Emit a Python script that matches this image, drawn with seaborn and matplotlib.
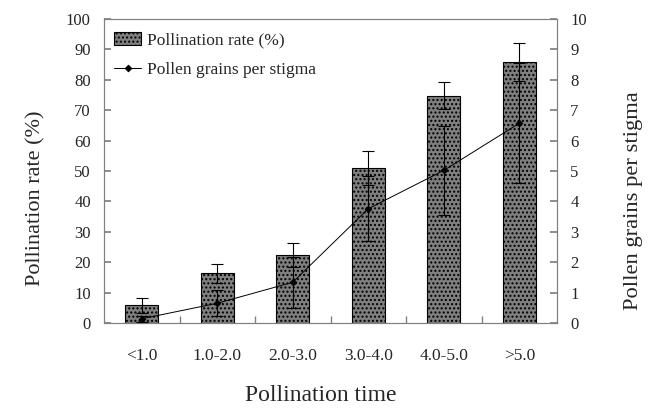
import matplotlib
matplotlib.use("Agg")
import matplotlib.pyplot as plt
import seaborn as sns
import numpy as np

categories = ["<1.0", "1.0-2.0", "2.0-3.0", "3.0-4.0", "4.0-5.0", ">5.0"]
rate = [5.8, 16.4, 22.4, 51.0, 74.8, 85.9]
rate_err = [2.4, 3.1, 3.9, 5.7, 4.5, 6.3]
grains = [0.14, 0.65, 1.34, 3.76, 5.02, 6.57]
grains_err = [0.10, 0.43, 0.83, 1.07, 1.47, 1.98]

sns.set_theme(style="white")
plt.rcParams["font.family"] = ["Liberation Serif", "DejaVu Serif"]
plt.rcParams["hatch.color"] = "#9a9a9a"

fig, ax = plt.subplots(figsize=(6.48, 4.08), dpi=100)
fig.subplots_adjust(left=0.1605, right=0.8596, top=0.9534, bottom=0.2083)

sns.barplot(x=categories, y=rate, ax=ax, color="#7f7f7f", width=0.44,
            edgecolor="black", linewidth=0.8, errorbar=None, saturation=1,
            label="Pollination rate (%)")
for p in ax.patches:
    p.set_hatch("....")
    p.set_edgecolor("black")
pos = np.arange(len(categories))
ax.errorbar(pos, rate, yerr=rate_err, fmt="none", ecolor="black",
            elinewidth=0.8, capsize=4, capthick=0.8, zorder=5)

ax2 = ax.twinx()
sns.pointplot(x=categories, y=grains, ax=ax2, color="black", markers="D",
              markersize=3.5, linewidth=0.7, errorbar=None,
              label="Pollen grains per stigma")
ax2.errorbar(pos, grains, yerr=grains_err, fmt="none", ecolor="black",
             elinewidth=0.8, capsize=4, capthick=0.8, zorder=5)

ax.set_ylim(0, 100)
ax.set_yticks(np.arange(0, 101, 10))
ax2.set_ylim(0, 10)
ax2.set_yticks(np.arange(0, 11, 1))
ax.set_xlim(-0.5, len(categories) - 0.5)
ax2.set_xlim(-0.5, len(categories) - 0.5)

ax.set_xticks(pos)
ax.set_xticklabels(categories)
ax.tick_params(axis="x", length=0, labelsize=12.5, pad=18)
ax.set_xticks(np.arange(0.5, len(categories) - 1, 1), minor=True)
ax.tick_params(axis="x", which="minor", direction="in", length=5, color="#808080", bottom=True)
ax.tick_params(axis="y", direction="in", length=5, color="#808080", labelsize=12, left=True, pad=9.5)
ax2.tick_params(axis="y", direction="in", length=5, color="#808080", labelsize=12, right=True, pad=9.5)

for a in (ax, ax2):
    for s in a.spines.values():
        s.set_color("#808080")
        s.set_linewidth(0.8)

ax.set_xlabel("Pollination time", fontsize=17, labelpad=15)
ax.set_ylabel("Pollination rate (%)", fontsize=16, labelpad=15)
ax2.set_ylabel("Pollen grains per stigma", fontsize=16.2, labelpad=27)
ax.xaxis.label.set_x(0.479)
ax.yaxis.label.set_y(0.411)
ax2.yaxis.label.set_y(0.401)

h1 = ax.containers[0]
h2 = ax2.lines[0]
leg = ax.legend([h1, h2], ["Pollination rate (%)", "Pollen grains per stigma"],
                loc="upper left", bbox_to_anchor=(0.0, 0.99), frameon=False,
                fontsize=12.5, handlelength=1.55, handletextpad=0.3, borderaxespad=0.2,
                labelspacing=0.75)
ax2.set_zorder(ax.get_zorder() + 1)
ax2.patch.set_visible(False)
if ax2.get_legend() is not None:
    ax2.get_legend().remove()

fig.savefig("out.png", dpi=100)
